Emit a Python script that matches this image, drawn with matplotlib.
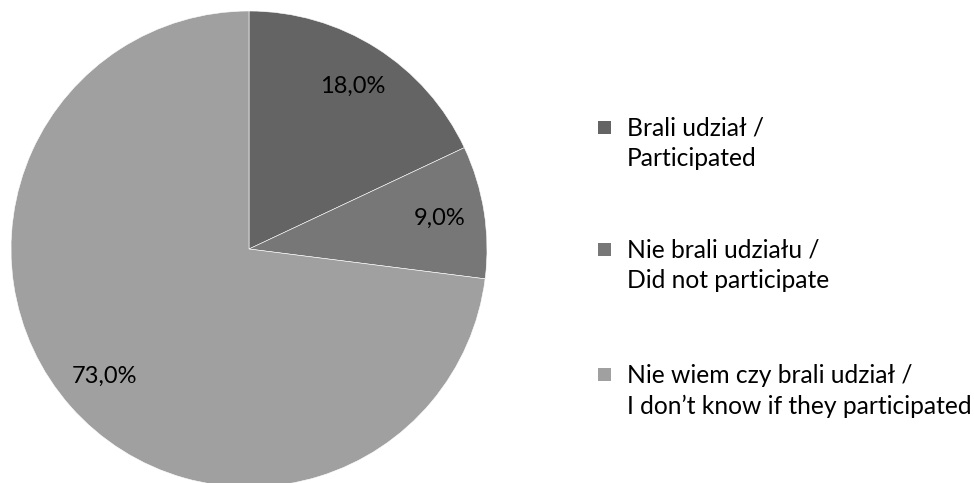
import matplotlib.pyplot as plt
from matplotlib.patches import Rectangle

# data
labels = ['Brali udział /\nParticipated',
          'Nie brali udziału /\nDid not participate',
          'Nie wiem czy brali udział /\nI don\u2019t know if they participated']
values = [18.0, 9.0, 73.0]
colors = ['#646464', '#777777', '#a0a0a0']

plt.rcParams['font.family'] = ['Lato', 'DejaVu Sans']

W, H = 974, 483
fig = plt.figure(figsize=(W / 100, H / 100), dpi=100)

# pie centred at (249, 249) px, radius 238 px
cx, cy, r = 249, 249, 238
ax = fig.add_axes([(cx - r) / W, (H - cy - r) / H, 2 * r / W, 2 * r / H])
ax.pie(values, colors=colors, startangle=90, counterclock=False,
       radius=1, pctdistance=0.81,
       autopct=lambda p: f'{p:.1f}%'.replace('.', ','),
       textprops={'fontsize': 17, 'color': 'black'},
       wedgeprops={'edgecolor': 'white', 'linewidth': 0.4})
ax.set_xlim(-1, 1)
ax.set_ylim(-1, 1)
ax.set_aspect('equal')
ax.axis('off')

# legend drawn by hand: square aligned with first text line
leg_y = [128, 250, 375]
for lab, col, y in zip(labels, colors, leg_y):
    fig.patches.append(Rectangle((598 / W, (H - y - 6) / H), 13 / W, 13 / H,
                                 transform=fig.transFigure, facecolor=col,
                                 edgecolor='none'))
    fig.text(627 / W, (H - y + 11) / H, lab, fontsize=17.7, va='top', ha='left',
             linespacing=1.38, color='black')

fig.savefig('out.png', dpi=100)
